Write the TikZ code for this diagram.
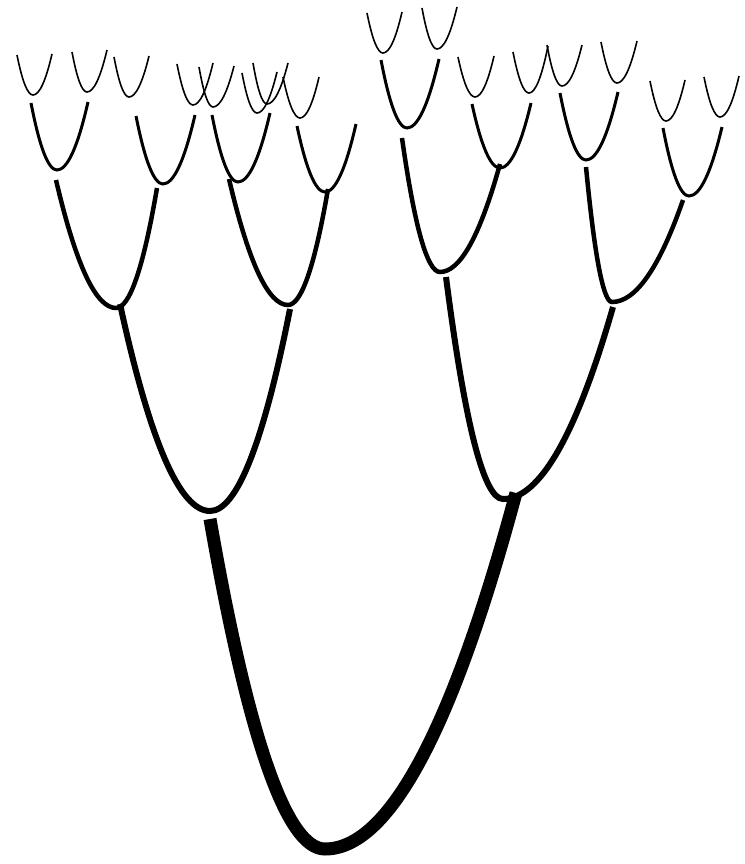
\documentclass[tikz,border=0pt]{standalone}
\newcommand\ucurve[7]{%
  \pgfmathsetmacro\ucax{(2*#2+#4)/3}%
  \pgfmathsetmacro\ucay{(#3+2*#5)/3}%
  \pgfmathsetmacro\ucbx{(#2+2*#4)/3}%
  \pgfmathsetmacro\uccx{(2*#4+#6)/3}%
  \pgfmathsetmacro\ucdx{(#4+2*#6)/3}%
  \pgfmathsetmacro\ucdy{(#7+2*#5)/3}%
  \draw[line width=#1] (#2,#3) .. controls (\ucax,\ucay) and (\ucbx,#5) .. (#4,#5)
     .. controls (\uccx,#5) and (\ucdx,\ucdy) .. (#6,#7);}
\begin{document}
\begin{tikzpicture}[x=1pt,y=-1pt]
\useasboundingbox (0,0) rectangle (744,864);
% level 1
\ucurve{13pt}{210}{519}{325}{849}{516}{493}
% level 2
\ucurve{6pt}{120}{304}{210}{511}{290}{309}
\ucurve{6pt}{446}{277}{503}{499}{613}{307}
% level 3
\ucurve{4.5pt}{56}{180}{116}{308}{157}{188}
\ucurve{4.5pt}{229}{179}{288}{305}{328}{189}
\ucurve{4.5pt}{402}{138}{440}{272}{500}{164}
\ucurve{4.5pt}{586}{167}{612}{302}{683}{200}
% level 4
\ucurve{3pt}{31}{103}{57}{170}{88}{102}
\ucurve{3pt}{136}{116}{163}{184}{195}{115}
\ucurve{3pt}{212}{115}{238}{182}{270}{113}
\ucurve{3pt}{297}{126}{325}{192}{356}{124}
\ucurve{3pt}{381}{60}{407}{128}{439}{59}
\ucurve{3pt}{472}{104}{500}{168}{531}{103}
\ucurve{3pt}{560}{93}{586}{160}{618}{92}
\ucurve{3pt}{663}{128}{689}{196}{722}{127}
% level 5
\ucurve{1.6pt}{17}{55}{33}{95}{52}{54}
\ucurve{1.6pt}{72}{52}{87}{92}{107}{50}
\ucurve{1.6pt}{114}{57}{129}{97}{149}{56}
\ucurve{1.6pt}{177}{64}{193}{105}{213}{63}
\ucurve{1.6pt}{199}{67}{213}{107}{234}{66}
\ucurve{1.6pt}{242}{73}{257}{113}{277}{72}
\ucurve{1.6pt}{253}{63}{267}{104}{288}{63}
\ucurve{1.6pt}{283}{77}{300}{118}{319}{77}
\ucurve{1.6pt}{367}{13}{383}{53}{402}{12}
\ucurve{1.6pt}{422}{8}{437}{49}{457}{7}
\ucurve{1.6pt}{458}{57}{475}{97}{494}{56}
\ucurve{1.6pt}{513}{52}{529}{93}{548}{46}
\ucurve{1.6pt}{547}{45}{562}{86}{582}{45}
\ucurve{1.6pt}{601}{42}{617}{83}{637}{41}
\ucurve{1.6pt}{650}{81}{666}{121}{685}{80}
\ucurve{1.6pt}{704}{77}{720}{117}{739}{76}
\end{tikzpicture}
\end{document}
